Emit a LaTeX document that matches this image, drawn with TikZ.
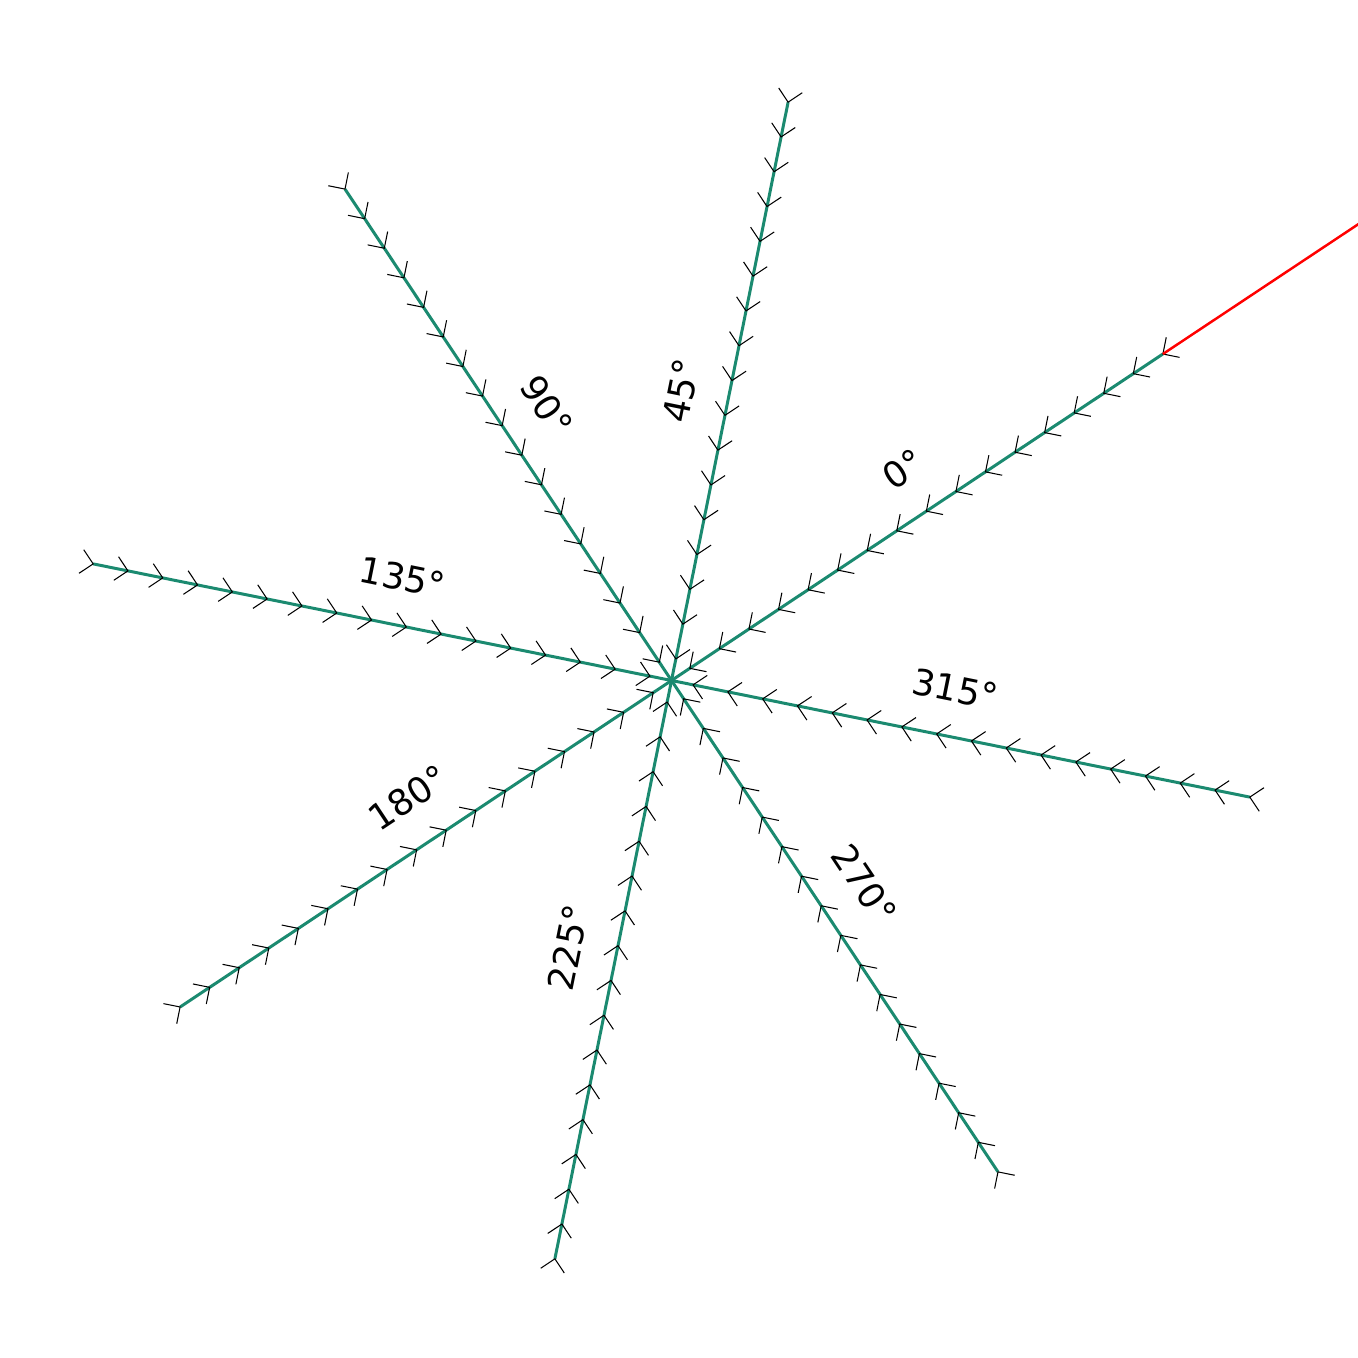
\documentclass[tikz,border=0pt]{standalone}
\usepackage{fontspec}
\setmainfont{DejaVu Sans}
\usetikzlibrary{calc}
\definecolor{raygreen}{RGB}{27,138,112}
\begin{document}
\begin{tikzpicture}[x=0.01cm, y=0.01cm,
  ray/.style={draw=raygreen, line width=0.85pt},
  barb/.style={draw=black, line width=0.3pt},
  lbl/.style={font=\fontsize{10.2}{12}\selectfont, inner sep=0pt}
]
\useasboundingbox (-671.5,-677.5) rectangle (686.5,680.5);
\clip (-671.5,-677.5) rectangle (686.5,680.5);
\coordinate (O) at (0,0);
\foreach \lab/\d/\r in {0/310/33.6, 45/286/78.6, 90/298/-56.4, 135/284/-11.4,
                        180/284/33.6, 225/282/78.6, 270/276/-56.4, 315/280/-11.4} {
  \pgfmathsetmacro{\ang}{33.6+\lab}
  \coordinate (e\lab) at (\ang:590);
  \draw[ray] (O) -- (e\lab);
  % barbs along the ray
  \foreach \k in {0,...,16} {
    \pgfmathsetmacro{\dist}{590-35.5*\k}
    \draw[barb] (\ang:\dist) +(\ang+45:17) -- (\ang:\dist) -- +(\ang-45:17);
  }
  \node[lbl, rotate=\r] (l\lab) at ($(\ang:\d)+(\r+90:48)$) {\lab°};
}
\coordinate (far) at (33.6:1000);
\draw[red, line width=0.7pt] (e0) -- (far);
\end{tikzpicture}
\end{document}
